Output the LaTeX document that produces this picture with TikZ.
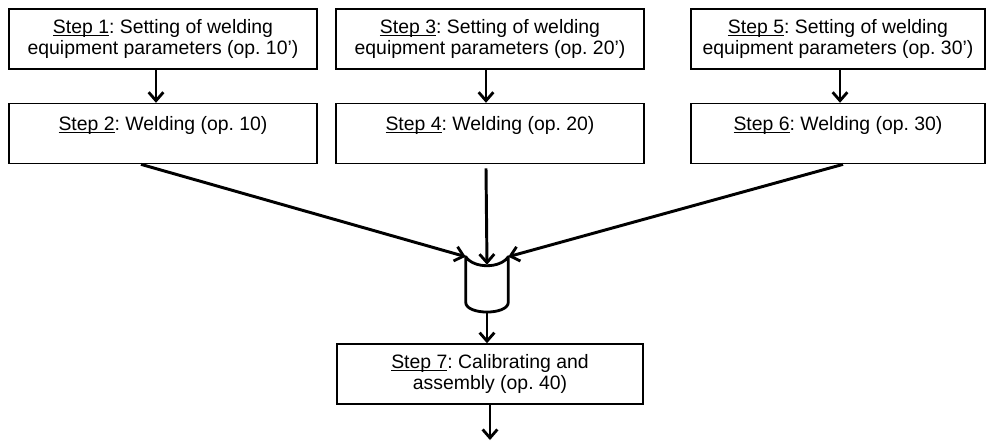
\documentclass[tikz,border=0pt]{standalone}
\usepackage{fontspec}
\setmainfont{Liberation Sans}
\usepackage{tikz}
\usetikzlibrary{arrows.meta,positioning}

\frenchspacing
\newcommand{\steplabel}[1]{\setbox0\hbox{#1}\rlap{\rule[-1.6pt]{\wd0}{0.7pt}}\box0}

\begin{document}
\begin{tikzpicture}[
    x=0.025cm, y=-0.025cm,
    node distance=0.825cm,
    stepbox/.style={rectangle, draw, line width=1.1pt, minimum width=7.7cm, minimum height=1.5cm, inner sep=2pt, align=center, font=\fontsize{13.8}{14.6}\selectfont},
    tank/.style={rectangle, minimum width=1.05cm, minimum height=1.375cm, inner sep=0pt},
    tankline/.style={line width=2pt, line join=round},
    arrow/.style={-{Straight Barb[length=6pt,width=10.5pt,line width=2pt]}, line width=2.1pt}
]
    \useasboundingbox (0,0) rectangle (987,442);

    % Setting boxes
    \node[stepbox] (s1) at (163,39) {\steplabel{Step 1}: Setting of welding\\equipment parameters (op. 10')};
    \node[stepbox] (s3) at (490,39) {\steplabel{Step 3}: Setting of welding\\equipment parameters (op. 20')};
    \node[stepbox, minimum width=7.35cm] (s5) at (838,39) {\steplabel{Step 5}: Setting of welding\\equipment parameters (op. 30')};

    % Welding boxes
    \node[stepbox, below=of s1] (s2) {\steplabel{Step 2}: Welding (op. 10)\\~};
    \node[stepbox, below=of s3] (s4) {\steplabel{Step 4}: Welding (op. 20)\\~};
    \node[stepbox, minimum width=7.35cm, below=of s5] (s6) {\steplabel{Step 6}: Welding (op. 30)\\~};

    % Buffer
    \node[tank] (buf) at (487,284.5) {};
    \draw[tankline] (buf.north west) .. controls ++(8,12) and ++(-8,12) .. (buf.north east)
        -- ([yshift=0.25cm]buf.south east) .. controls ++(0,13) and ++(0,13) .. ([yshift=0.25cm]buf.south west) -- cycle;

    % Assembly
    \node[stepbox, minimum width=7.65cm] (s7) at (490,374) {\steplabel{Step 7}: Calibrating and\\assembly (op. 40)};
    \coordinate (out) at (490,440);

    % Arrows
    \draw[arrow] ([xshift=-0.175cm]s1.south) -- ([xshift=-0.175cm]s2.north);
    \draw[arrow] ([xshift=-0.1cm]s3.south) -- ([xshift=-0.1cm]s4.north);
    \draw[arrow] ([xshift=0.05cm]s5.south) -- ([xshift=0.05cm]s6.north);
    \draw[arrow] ([xshift=-0.55cm]s2.south) -- (buf.north west);
    \draw[arrow] ([xshift=-0.1cm,yshift=-0.1cm]s4.south) -- ([yshift=-0.2cm]buf.north);
    \draw[arrow] ([xshift=0.125cm]s6.south) -- (buf.north east);
    \draw[arrow] (buf.south) -- (s7.north -| buf.south);
    \draw[arrow] (s7.south -| out) -- (out);
\end{tikzpicture}
\end{document}
